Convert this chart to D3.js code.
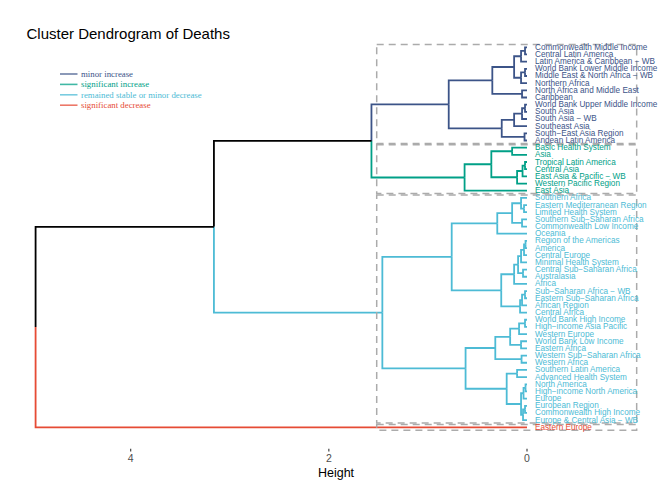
<!DOCTYPE html>
<html>
<head>
<meta charset="utf-8">
<script src="https://cdn.jsdelivr.net/npm/d3@7"></script>
<style>
body { margin: 0; background: #fff; }
svg text { font-family: "Liberation Sans", Arial, sans-serif; }
</style>
</head>
<body>
<div id="chart"></div>
<script>
// leaf labels, top to bottom
var labels = [
  "Commonwealth Middle Income", "Central Latin America", "Latin America & Caribbean \u2212 WB",
  "World Bank Lower Middle Income", "Middle East & North Africa \u2212 WB", "Northern Africa",
  "North Africa and Middle East", "Caribbean", "World Bank Upper Middle Income", "South Asia",
  "South Asia \u2212 WB", "Southeast Asia", "South\u2212East Asia Region", "Andean Latin America",
  "Basic Health System", "Asia", "Tropical Latin America", "Central Asia",
  "East Asia & Pacific \u2212 WB", "Western Pacific Region", "East Asia",
  "Southern Africa", "Eastern Mediterranean Region", "Limited Health System",
  "Southern Sub\u2212Saharan Africa", "Commonwealth Low Income", "Oceania",
  "Region of the Americas", "America", "Central Europe", "Minimal Health System",
  "Central Sub\u2212Saharan Africa", "Australasia", "Africa", "Sub\u2212Saharan Africa \u2212 WB",
  "Eastern Sub\u2212Saharan Africa", "African Region", "Central Africa", "World Bank High Income",
  "High\u2212income Asia Pacific", "Western Europe", "World Bank Low Income", "Eastern Africa",
  "Western Sub\u2212Saharan Africa", "Western Africa", "Southern Latin America",
  "Advanced Health System", "North America", "High\u2212income North America", "Europe",
  "European Region", "Commonwealth High Income", "Europe & Central Asia \u2212 WB",
  "Eastern Europe"
];

// cluster of each leaf (index into groupNames)
var leafGroup = [
  0,0,0,0,0,0,0,0,0,0,0,0,0,0,
  1,1,1,1,1,1,1,
  2,2,2,2,2,2,2,2,2,2,2,2,2,2,2,2,2,2,2,2,2,2,2,2,2,2,2,2,2,2,2,2,
  3
];

var groupNames = ["minor increase", "significant increase", "remained stable or minor decrease", "significant decrease"];
var groupColors = ["#3C5488", "#00A087", "#4DBBD5", "#E64B35"];

// hclust-style merge table: negative = leaf (1-based), positive = earlier merge (1-based)
var merges = [
  [-1, -2], [1, -3], [-4, -5], [3, -6], [2, 4], [-7, -8], [5, 6],
  [-9, -10], [8, -11], [9, -12], [-13, -14], [10, 11], [7, 12],
  [-15, -16], [-17, -18], [15, -19], [16, -20], [14, 17], [18, -21], [13, 19],
  [-23, -24], [-22, 21], [-25, -26], [22, 23], [24, -27],
  [-28, -29], [26, -30], [27, -31], [-32, -33], [28, 29], [30, -34],
  [-35, -36], [32, -37], [33, -38], [31, 34], [25, 35],
  [-39, -40], [37, -41], [-42, -43], [38, 39], [-44, -45], [40, 41],
  [-46, -47], [-48, -49], [44, -50], [-51, -52], [46, -53], [45, 47], [43, 48],
  [42, 49], [36, 50], [20, 51], [52, -54]
];
var heights = [
  0.02, 0.06, 0.02, 0.06, 0.13, 0.05, 0.35,
  0.02, 0.05, 0.13, 0.025, 0.255, 0.79,
  0.15, 0.02, 0.045, 0.10, 0.36, 0.63, 1.57,
  0.03, 0.06, 0.05, 0.15, 0.30,
  0.015, 0.03, 0.06, 0.04, 0.09, 0.13,
  0.02, 0.05, 0.07, 0.26, 0.76,
  0.02, 0.08, 0.06, 0.17, 0.055, 0.32,
  0.10, 0.015, 0.035, 0.02, 0.04, 0.06, 0.205,
  0.62, 1.46, 3.16, 4.96
];

var heightTicks = [4, 2, 0];

var width = 669, height = 486;

var svg = d3.select('#chart').append('svg')
  .attr('width', width)
  .attr('height', height);

var x = d3.scaleLinear().domain([0, 4]).range([527, 130.7]);
var y = d3.scalePoint().domain(labels).range([47.3, 427.3]);
var step = y.step();

// build nodes from the merge table
var mergeNodes = [];
function ref(v) {
  if (v < 0) {
    var i = -v - 1;
    return { leaf: true, x: x(0), y: y(labels[i]), group: leafGroup[i] };
  }
  return mergeNodes[v - 1];
}
merges.forEach(function (m, k) {
  var a = ref(m[0]), b = ref(m[1]);
  mergeNodes.push({
    x: x(heights[k]),
    y: (a.y + b.y) / 2,
    group: (a.group !== null && a.group === b.group) ? a.group : null,
    children: [a, b]
  });
});

function colorOf(n) { return n.group === null ? '#000' : groupColors[n.group]; }

// branches
var links = [];
mergeNodes.forEach(function (p) {
  p.children.forEach(function (c) { links.push({ p: p, c: c }); });
});

svg.append('g').selectAll('path')
  .data(links)
  .enter()
  .append('path')
  .attr('d', function (d) {
    return 'M' + d.p.x + ',' + d.p.y + 'V' + d.c.y + 'H' + d.c.x;
  })
  .attr('fill', 'none')
  .attr('stroke', function (d) { return colorOf(d.c); })
  .attr('stroke-width', 1.8);

// cluster rectangles
var rects = groupNames.map(function (g, gi) {
  var idx = [];
  leafGroup.forEach(function (v, i) { if (v === gi) idx.push(i); });
  return { first: idx[0], last: idx[idx.length - 1] };
});
svg.append('g').selectAll('rect')
  .data(rects)
  .enter()
  .append('rect')
  .attr('x', x(1.517))
  .attr('width', x(-1.107) - x(1.517))
  .attr('y', function (d) { return y(labels[d.first]) - 0.4 * step; })
  .attr('height', function (d) { return y(labels[d.last]) - y(labels[d.first]) + 0.8 * step; })
  .attr('fill', 'none')
  .attr('stroke', '#ABABAB')
  .attr('stroke-width', 1.5)
  .attr('stroke-dasharray', '7,5');

// leaf labels
svg.append('g').selectAll('text')
  .data(labels)
  .enter()
  .append('text')
  .attr('x', x(0) + 8)
  .attr('y', function (d) { return y(d); })
  .attr('dominant-baseline', 'central')
  .attr('font-size', '8.2px')
  .attr('fill', function (d, i) { return groupColors[leafGroup[i]]; })
  .text(function (d) { return d; });

// axis
var axis = svg.append('g');
axis.selectAll('line')
  .data(heightTicks)
  .enter()
  .append('line')
  .attr('x1', function (d) { return x(d); })
  .attr('x2', function (d) { return x(d); })
  .attr('y1', 448.7)
  .attr('y2', 451.5)
  .attr('stroke', '#333')
  .attr('stroke-width', 1.1);
axis.selectAll('text')
  .data(heightTicks)
  .enter()
  .append('text')
  .attr('x', function (d) { return x(d); })
  .attr('y', 462)
  .attr('text-anchor', 'middle')
  .attr('font-size', '10.5px')
  .attr('fill', '#4D4D4D')
  .text(function (d) { return d; });
svg.append('text')
  .attr('x', 336)
  .attr('y', 476.5)
  .attr('text-anchor', 'middle')
  .attr('font-size', '12.5px')
  .attr('fill', '#000')
  .text('Height');

// title
svg.append('text')
  .attr('x', 26.5)
  .attr('y', 39)
  .attr('font-size', '15px')
  .attr('fill', '#000')
  .text('Cluster Dendrogram of Deaths');

// legend
var legend = svg.append('g').selectAll('g')
  .data(groupNames)
  .enter()
  .append('g')
  .attr('transform', function (d, i) { return 'translate(0,' + (74 + i * 10.4) + ')'; });
legend.append('line')
  .attr('x1', 60).attr('x2', 77.5)
  .attr('y1', 0).attr('y2', 0)
  .attr('stroke', function (d, i) { return groupColors[i]; })
  .attr('stroke-opacity', 0.75)
  .attr('stroke-width', 1.6);
legend.append('text')
  .attr('x', 81)
  .attr('y', 0)
  .attr('dominant-baseline', 'central')
  .attr('font-size', '8.8px')
  .style('font-family', '"Liberation Serif", "Times New Roman", serif')
  .attr('fill', function (d, i) { return groupColors[i]; })
  .text(function (d) { return d; });
</script>
</body>
</html>
